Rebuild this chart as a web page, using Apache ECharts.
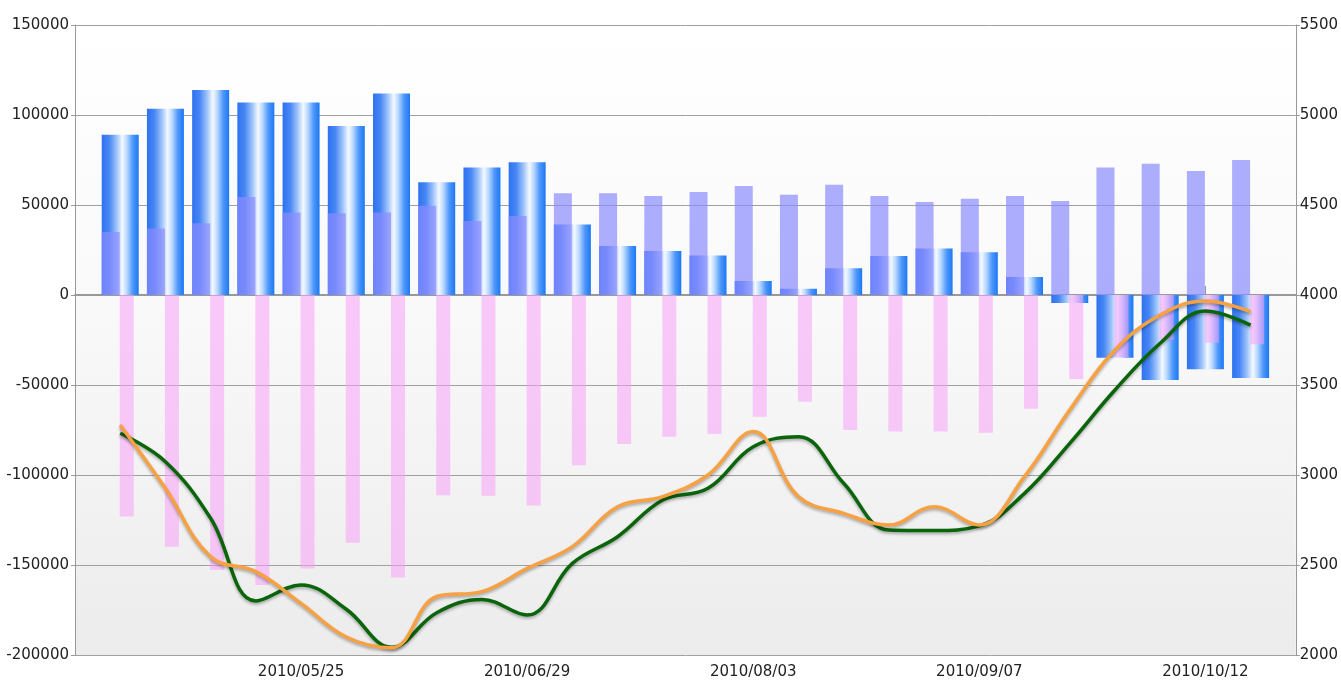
<!DOCTYPE html>
<html>
<head>
<meta charset="utf-8">
<script src="https://cdn.jsdelivr.net/npm/echarts@6/dist/echarts.min.js"></script>
<style>
html,body{margin:0;padding:0;background:#fff;}
#chart{width:1341px;height:680px;}
</style>
</head>
<body>
<div id="chart"></div>
<script>
var dates = ['2010/04/27','2010/05/04','2010/05/11','2010/05/18','2010/05/25','2010/06/01','2010/06/08','2010/06/15','2010/06/22','2010/06/29','2010/07/06','2010/07/13','2010/07/20','2010/07/27','2010/08/03','2010/08/10','2010/08/17','2010/08/24','2010/08/31','2010/09/07','2010/09/14','2010/09/21','2010/09/28','2010/10/05','2010/10/12','2010/10/19'];
var blueVals = [89000,103500,113900,107000,107000,93900,111900,62600,70900,73700,39100,27200,24400,21900,7800,3500,14800,21700,25900,23700,10000,-4400,-34800,-47200,-41300,-46100];
var purpleVals = [35000,37000,39800,54400,45900,45400,45900,49600,41100,43900,56500,56500,55000,57200,60600,55700,61300,55000,51700,53500,55000,52200,70900,72900,68900,75000];
var pinkVals = [-123100,-139800,-152800,-161100,-152000,-137600,-156900,-111300,-111500,-117000,-94600,-82800,-78700,-77200,-67600,-59300,-75000,-75900,-75900,-76500,-63200,-46700,-34600,-25000,-26500,-27400];
var greenVals = [3232,3074,2760,2300,2389,2254,2043,2235,2309,2222,2509,2657,2861,2926,3157,3213,2954,2694,2691,2717,2898,3176,3472,3732,3911,3833];
var orangeVals = [3278,2926,2546,2463,2287,2100,2040,2325,2352,2481,2602,2824,2880,3000,3241,2880,2787,2722,2824,2722,2991,3361,3694,3889,3967,3907];

function pad(a){ return ['-'].concat(a, ['-']); }
var cats = [''].concat(dates, ['']);

var chart = echarts.init(document.getElementById('chart'), null, {renderer:'canvas'});
var font = {fontFamily:'DejaVu Sans', fontSize:15, color:'#222'};
var lineShadow = {shadowColor:'rgba(0,0,0,0.3)', shadowBlur:3, shadowOffsetY:2};
var showIdx = function(i){ return i > 0 && i % 5 === 0; };

chart.setOption({
  animation:false,
  backgroundColor:'#ffffff',
  grid:{left:75, right:38, top:25, bottom:25, show:true, borderWidth:0,
    backgroundColor:new echarts.graphic.LinearGradient(0,0,0,1,[
      {offset:0,color:'#ffffff'},{offset:0.45,color:'#f9f9f9'},{offset:1,color:'#ececec'}])},
  xAxis:[
    {type:'category', data:cats, boundaryGap:false,
      axisLine:{lineStyle:{color:'#999', width:2}},
      axisTick:{inside:true, length:9, interval:function(i){return showIdx(i);}, lineStyle:{color:'#999'}},
      axisLabel:Object.assign({interval:function(i){return showIdx(i);}, margin:10}, font),
      splitLine:{show:false}},
    {type:'category', data:cats, boundaryGap:false, show:false}
  ],
  yAxis:[
    {type:'value', min:-200000, max:150000, interval:50000,
      axisLine:{show:true, lineStyle:{color:'#999'}},
      axisTick:{show:true, length:4, lineStyle:{color:'#999'}},
      axisLabel:Object.assign({margin:6, formatter:function(v){return String(v);}}, font),
      splitLine:{show:true, lineStyle:{color:'#a0a0a0', width:1}}},
    {type:'value', min:2000, max:5500, interval:500, position:'right',
      axisLine:{show:true, lineStyle:{color:'#999'}},
      axisTick:{show:true, length:4, lineStyle:{color:'#999'}},
      axisLabel:Object.assign({margin:4, formatter:function(v){return String(v);}}, font),
      splitLine:{show:false}}
  ],
  series:[
    {type:'bar', xAxisIndex:0, yAxisIndex:0, data:pad(blueVals), barWidth:37,
      itemStyle:{color:new echarts.graphic.LinearGradient(0,0,1,0,[
        {offset:0,color:'#2e72f0'},{offset:0.2,color:'#4886f4'},{offset:0.4,color:'#9cc2fa'},
        {offset:0.56,color:'#f4f9ff'},{offset:0.68,color:'#b9d8ff'},{offset:0.84,color:'#4e97fa'},{offset:1,color:'#1c78f4'}])}},
    {type:'bar', xAxisIndex:1, yAxisIndex:0, data:pad(purpleVals), barWidth:18, barGap:'0%',
      itemStyle:{color:'rgba(140,140,255,0.7)'}},
    {type:'bar', xAxisIndex:1, yAxisIndex:0, data:pad(pinkVals), barWidth:14, barGap:'0%',
      itemStyle:{color:'rgba(248,160,248,0.55)'}},
    {type:'bar', xAxisIndex:1, yAxisIndex:0, data:pad(blueVals.map(function(){return '-';})), barWidth:5, barGap:'0%',
      itemStyle:{color:'rgba(0,0,0,0)'}},
    {type:'line', xAxisIndex:0, yAxisIndex:1, data:pad(greenVals), smooth:0.4, symbol:'none',
      lineStyle:Object.assign({color:'#0a640a', width:3.5}, lineShadow)},
    {type:'line', xAxisIndex:0, yAxisIndex:1, data:pad(orangeVals), smooth:0.4, symbol:'none',
      lineStyle:Object.assign({color:'#f7a142', width:3.5}, lineShadow)}
  ]
});
</script>
</body>
</html>
